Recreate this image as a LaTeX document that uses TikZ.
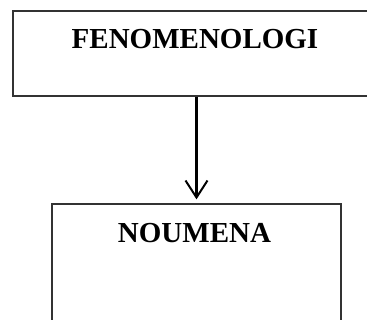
\documentclass[tikz,border=0pt]{standalone}
\usepackage{fontspec}
\setmainfont{Liberation Serif}
\usetikzlibrary{arrows.meta}
\begin{document}
\begin{tikzpicture}[x=1pt,y=-1pt,
  boxstyle/.style={draw=black!80,line width=1.3pt,inner sep=0pt},
  labelstyle/.style={font=\fontsize{29}{34}\selectfont\bfseries,anchor=base,inner sep=0pt},
  linkstyle/.style={line width=2.2pt,-{Straight Barb[length=17pt,width=22pt,line width=2pt]},shorten >=4pt}]
\useasboundingbox (0,0) rectangle (367,320);
\clip (0,0) rectangle (367,320);
\node[boxstyle,minimum width=367pt,minimum height=85pt] (top) at (196.5,53.5) {};
\node[boxstyle,minimum width=289pt,minimum height=130pt] (bot) at (196.5,269) {};
\node[labelstyle] (t1) at (195,49) {FENOMENOLOGI};
\node[labelstyle] (t2) at (194.5,243) {NOUMENA};
\draw[linkstyle] (top.south) -- (bot.north);
\end{tikzpicture}
\end{document}
